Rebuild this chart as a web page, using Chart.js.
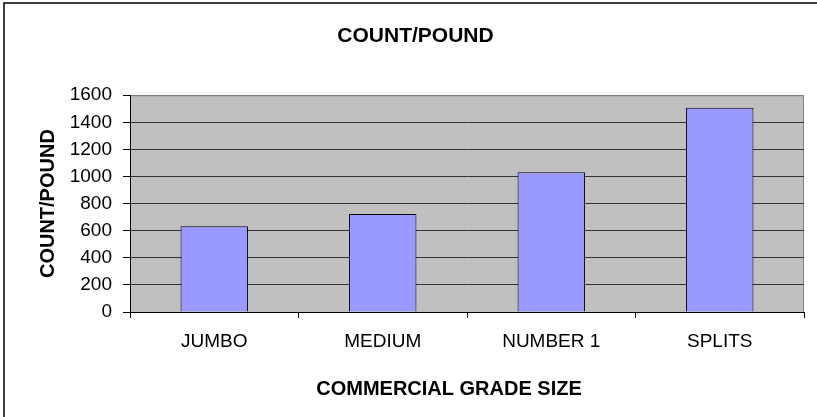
<!DOCTYPE html>
<html>
<head>
<meta charset="utf-8">
<script src="https://cdn.jsdelivr.net/npm/chart.js@4/dist/chart.umd.min.js"></script>
<style>
  body { margin: 0; background: #fff; }
  canvas { display: block; }
</style>
</head>
<body>
<canvas id="grade" width="817" height="417"></canvas>
<script>
const categories = ['JUMBO', 'MEDIUM', 'NUMBER 1', 'SPLITS'];
const countPerPound = [633, 724, 1032, 1507];
const yTicks = [0, 200, 400, 600, 800, 1000, 1200, 1400, 1600];
const xTitle = 'COMMERCIAL GRADE SIZE';

const FONT = '"Liberation Sans", Arial, sans-serif';

// gray plot area + outer frame like the old spreadsheet chart
const plotBackground = {
  id: 'plotBackground',
  beforeDraw(chart) {
    const {ctx, chartArea: a} = chart;
    ctx.save();
    ctx.fillStyle = '#c0c0c0';
    ctx.fillRect(a.left, a.top, a.right - a.left, a.bottom - a.top);
    ctx.strokeStyle = '#808080';
    ctx.lineWidth = 1;
    ctx.strokeRect(a.left + 0.5, a.top + 0.5, a.right - a.left - 1, a.bottom - a.top);
    ctx.strokeStyle = '#000';
    ctx.lineWidth = 1.5;
    ctx.strokeRect(4, 3, 900, 500);
    ctx.restore();
  },
  // the axis title sits a bit left of the plot centre in the original
  afterDraw(chart) {
    const {ctx, chartArea: a} = chart;
    ctx.save();
    ctx.fillStyle = '#000';
    ctx.font = 'bold 20px ' + FONT;
    ctx.textAlign = 'center';
    ctx.textBaseline = 'middle';
    ctx.fillText(xTitle, (a.left + a.right) / 2 - 18, 389);
    ctx.restore();
  }
};

new Chart(document.getElementById('grade'), {
  type: 'bar',
  data: {
    labels: categories,
    datasets: [{
      data: countPerPound,
      backgroundColor: '#9999ff',
      borderColor: '#000',
      borderWidth: 1,
      categoryPercentage: 1,
      barPercentage: 0.4
    }]
  },
  plugins: [plotBackground],
  options: {
    responsive: false,
    animation: false,
    layout: { padding: { left: 27, right: 13, top: 0, bottom: 0 } },
    plugins: {
      legend: { display: false },
      tooltip: { enabled: false },
      title: {
        display: true,
        text: 'COUNT/POUND',
        color: '#000',
        font: { family: FONT, size: 21, weight: 'bold' },
        padding: { top: 24, bottom: 46 }
      }
    },
    scales: {
      x: {
        afterFit(scale) { scale.height = 105; },
        grid: { drawOnChartArea: false, color: '#000', tickLength: 6 },
        border: { color: '#000' },
        ticks: { color: '#000', font: { family: FONT, size: 19 }, padding: 12, maxRotation: 0 }
      },
      y: {
        min: 0,
        max: 1600,
        afterFit(scale) { scale.width = 103; },
        afterBuildTicks(scale) { scale.ticks = yTicks.map(v => ({ value: v })); },
        grid: {
          color: ctx => (ctx.tick && ctx.tick.value === 1600) ? '#808080' : '#333',
          tickColor: '#000',
          tickLength: 7
        },
        border: { color: '#000' },
        ticks: {
          color: '#000',
          font: { family: FONT, size: 19 },
          padding: 11,
          callback: v => String(v)
        },
        title: {
          display: true,
          text: 'COUNT/POUND',
          color: '#000',
          font: { family: FONT, size: 20, weight: 'bold' },
          padding: { top: 9, bottom: 0 }
        }
      }
    }
  }
});
</script>
</body>
</html>
